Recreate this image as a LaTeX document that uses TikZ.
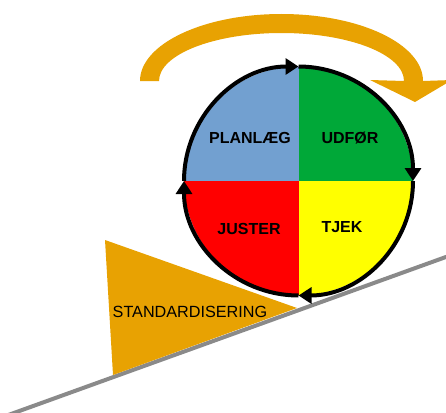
\documentclass[tikz,border=0pt]{standalone}
\usepackage{fontspec}
\setmainfont{Liberation Sans}
\usetikzlibrary{arrows.meta}
\definecolor{planblue}{RGB}{114,160,208}
\definecolor{dogreen}{RGB}{0,168,56}
\definecolor{actred}{RGB}{255,0,0}
\definecolor{checkyellow}{RGB}{255,255,0}
\definecolor{stdorange}{RGB}{232,162,2}
\definecolor{slopegray}{RGB}{138,138,138}
\tikzset{
  quadlabel/.style={font=\fontsize{16}{19}\selectfont\bfseries, inner sep=0pt, anchor=base},
  cyclearc/.style={line width=4pt, -{Triangle[length=13pt,width=16pt]}},
}
\begin{document}
\begin{tikzpicture}[x=1pt,y=-1pt]
\useasboundingbox (0,0) rectangle (446,412);
\clip (0,0) rectangle (446,412);

% the slope
\draw[slopegray, line width=4pt] (-10,421.6) -- (460,251.9);

% standardisation wedge under the wheel
\fill[stdorange] (105,240) -- (297,308) -- (113,375) -- cycle;
\node[font=\fontsize{16.2}{19}\selectfont, inner sep=0pt, anchor=base west] (std) at (112.5,317) {STANDARDISERING};

% PDCA wheel
\coordinate (c) at (298.5,181);
\begin{scope}
  \clip (c) circle[radius=114.5];
  \fill[planblue]    (c) rectangle ++(-130,-130);
  \fill[dogreen]     (c) rectangle ++(130,-130);
  \fill[actred]      (c) rectangle ++(-130,130);
  \fill[checkyellow] (c) rectangle ++(130,130);
\end{scope}
\draw[cyclearc] ([shift={(180:114.5)}]c) arc[start angle=180, end angle=270, radius=114.5];
\draw[cyclearc] ([shift={(270:114.5)}]c) arc[start angle=270, end angle=360, radius=114.5];
\draw[cyclearc] ([shift={(0:114.5)}]c) arc[start angle=0, end angle=90, radius=114.5];
\draw[cyclearc] ([shift={(90:114.5)}]c) arc[start angle=90, end angle=180, radius=114.5];

\node[quadlabel] (plan) at (250,143.3) {PLANLÆG};
\node[quadlabel] (do) at (350,143.3) {UDFØR};
\node[quadlabel] (act) at (249,234.3) {JUSTER};
\node[quadlabel] (check) at (342,232.7) {TJEK};

% curved arrow rolling the wheel up the slope
\fill[stdorange] (140,81) arc[start angle=180, end angle=360, x radius=141.5, y radius=67]
  -- (452,80) -- (415,102) -- (370,80) -- (404,81)
  arc[start angle=360, end angle=180, x radius=122.5, y radius=48] -- cycle;
\end{tikzpicture}
\end{document}
